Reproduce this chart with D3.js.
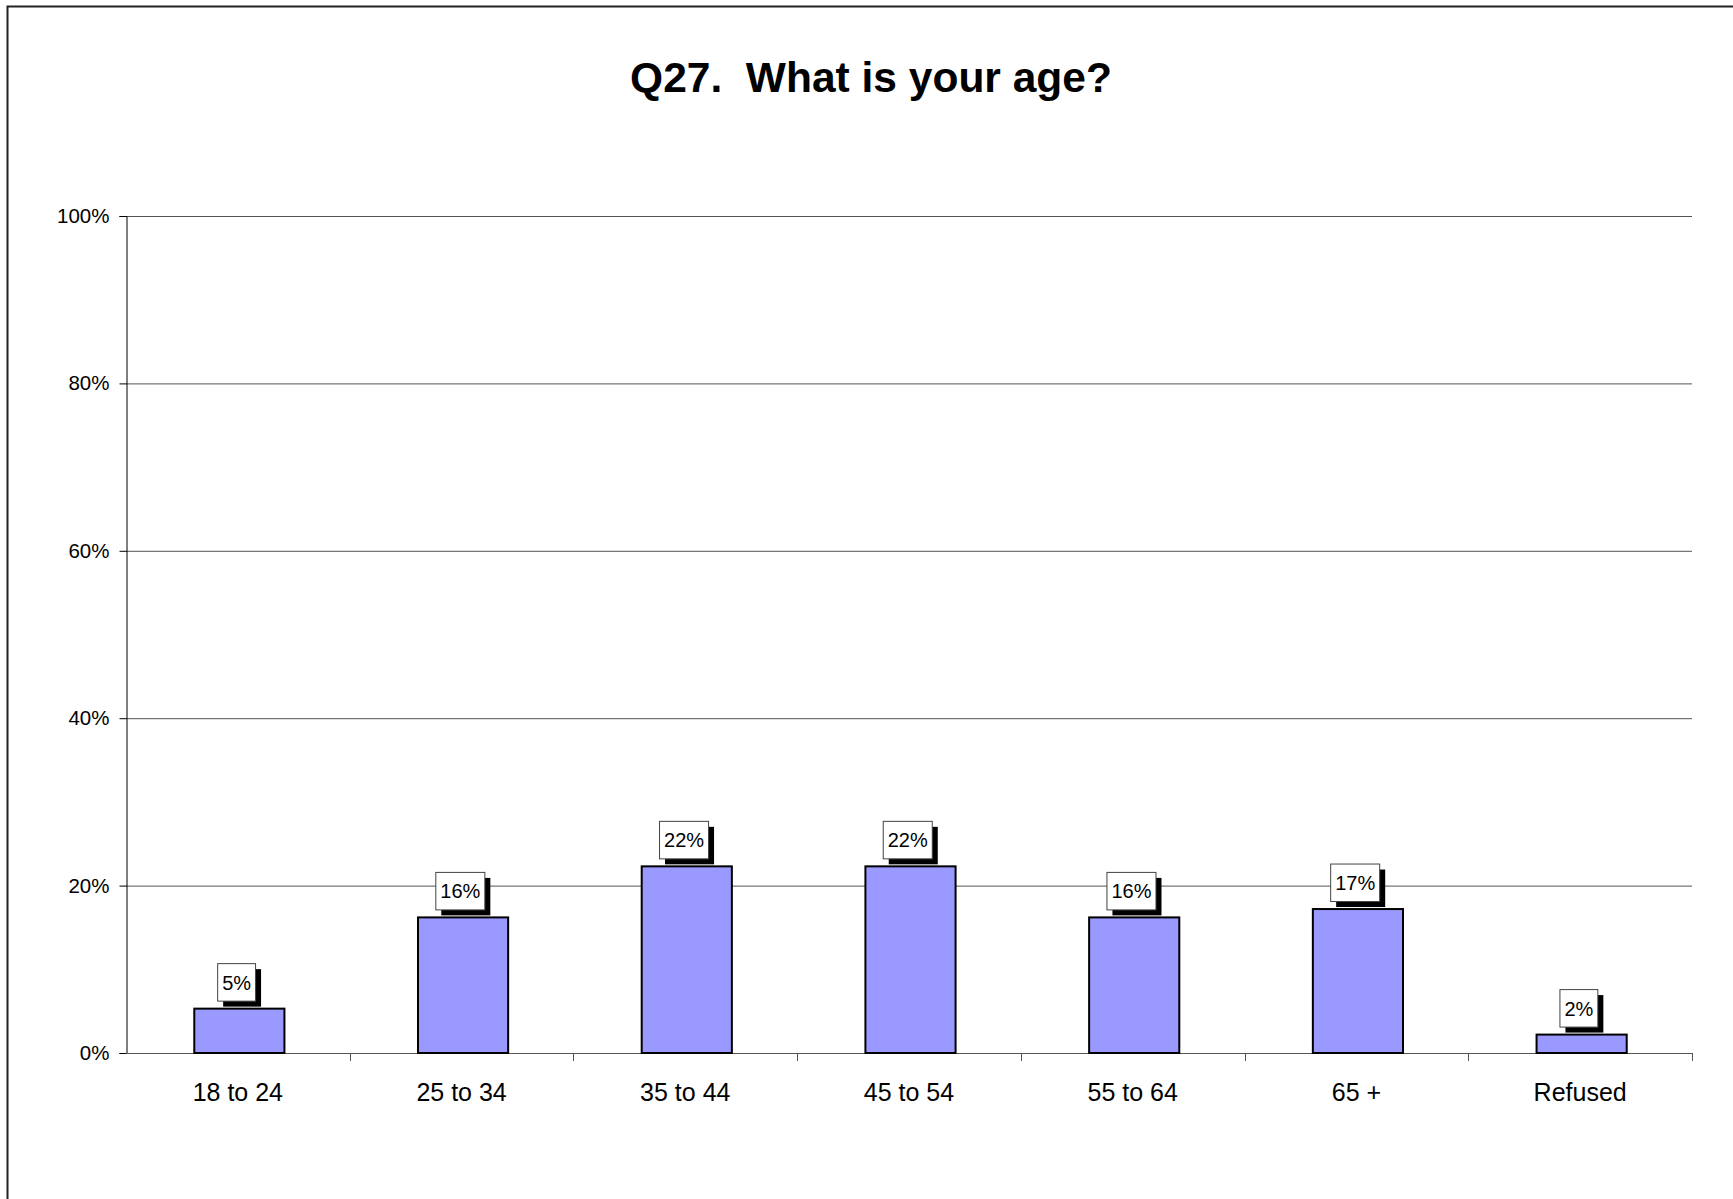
<!DOCTYPE html>
<html>
<head>
<meta charset="utf-8">
<script src="https://cdn.jsdelivr.net/npm/d3@7"></script>
<style>
  html, body { margin: 0; padding: 0; background: #fff; }
  svg { display: block; font-family: "Liberation Sans", Arial, sans-serif; }
</style>
</head>
<body>
<svg id="chart" width="1733" height="1199"></svg>
<script>
const title = "Q27.  What is your age?";
const categories = ["18 to 24", "25 to 34", "35 to 44", "45 to 54", "55 to 64", "65 +", "Refused"];
const values = [5.3, 16.2, 22.3, 22.3, 16.2, 17.2, 2.2];
const yTicks = [0, 20, 40, 60, 80, 100];

const svg = d3.select("#chart");
const plot = { left: 126, right: 1692, top: 216, bottom: 1053 };

// frame
svg.append("rect")
  .attr("x", 7.5).attr("y", 6.5)
  .attr("width", 1760).attr("height", 1230)
  .attr("fill", "none").attr("stroke", "#222").attr("stroke-width", 2);

// title
svg.append("text")
  .attr("x", 871).attr("y", 92)
  .attr("text-anchor", "middle")
  .attr("font-size", 42.5).attr("font-weight", "bold")
  .style("white-space", "pre")
  .text(title);

const x = d3.scaleBand().domain(categories).range([plot.left, plot.right]).padding(0);
const y = d3.scaleLinear().domain([0, 100]).range([plot.bottom, plot.top]);

// gridlines
svg.append("g").selectAll("line").data(yTicks.filter(d => d > 0)).join("line")
  .attr("x1", plot.left).attr("x2", plot.right)
  .attr("y1", d => y(d) + 0.5).attr("y2", d => y(d) + 0.5)
  .attr("stroke", "#555").attr("stroke-width", 1);

// y axis
const yAxis = svg.append("g")
  .attr("transform", `translate(${plot.left + 0.5},0)`)
  .call(d3.axisLeft(y).tickValues(yTicks).tickFormat(d => d + "%").tickSize(7).tickPadding(10));
yAxis.select(".domain").attr("stroke", "#000");
yAxis.selectAll(".tick line").attr("stroke", "#000");
yAxis.selectAll("text").attr("font-size", 20.5).attr("fill", "#000")
  .attr("font-family", "Liberation Sans, Arial, sans-serif");

// x axis baseline + ticks at band boundaries
const xg = svg.append("g");
xg.append("line")
  .attr("x1", plot.left).attr("x2", plot.right)
  .attr("y1", plot.bottom + 0.5).attr("y2", plot.bottom + 0.5)
  .attr("stroke", "#555").attr("stroke-width", 1.2);
const boundaries = categories.map(c => x(c)).concat([x(categories[categories.length - 1]) + x.bandwidth()]);
xg.selectAll("line.tk").data(boundaries.slice(1)).join("line").attr("class", "tk")
  .attr("x1", d => Math.round(d) + 0.5).attr("x2", d => Math.round(d) + 0.5)
  .attr("y1", plot.bottom).attr("y2", plot.bottom + 8)
  .attr("stroke", "#555").attr("stroke-width", 1);
xg.selectAll("text").data(categories).join("text")
  .attr("x", d => x(d) + x.bandwidth() / 2)
  .attr("y", 1101)
  .attr("text-anchor", "middle")
  .attr("font-size", 25)
  .text(d => d);

// bars
const barW = x.bandwidth() * 0.403;
const shift = 1.5;
const data = categories.map((c, i) => ({ c, v: values[i] }));
svg.append("g").selectAll("rect").data(data).join("rect")
  .attr("x", d => x(d.c) + x.bandwidth() / 2 - barW / 2 + shift)
  .attr("y", d => y(d.v))
  .attr("width", barW)
  .attr("height", d => y(0) - y(d.v))
  .attr("fill", "#9999FF")
  .attr("stroke", "#000").attr("stroke-width", 2);

// data labels with shadow
const lg = svg.append("g");
const shadow = 5.5;
data.forEach(d => {
  const g = lg.append("g");
  const t = g.append("text")
    .attr("font-size", 20)
    .text(Math.round(d.v) + "%");
  const tw = t.node().getComputedTextLength();
  const w = tw + 9, h = 37.5;
  const cx = x(d.c) + x.bandwidth() / 2 + shift;
  const bx = cx - (w + shadow) / 2;
  const by = y(d.v) - 7.5 - h;
  g.insert("rect", "text")
    .attr("x", bx + shadow).attr("y", by + shadow)
    .attr("width", w).attr("height", h).attr("fill", "#000");
  g.insert("rect", "text")
    .attr("x", bx).attr("y", by)
    .attr("width", w).attr("height", h)
    .attr("fill", "#fff").attr("stroke", "#444").attr("stroke-width", 1);
  t.attr("x", bx + w / 2).attr("y", by + 26).attr("text-anchor", "middle");
});
</script>
</body>
</html>
